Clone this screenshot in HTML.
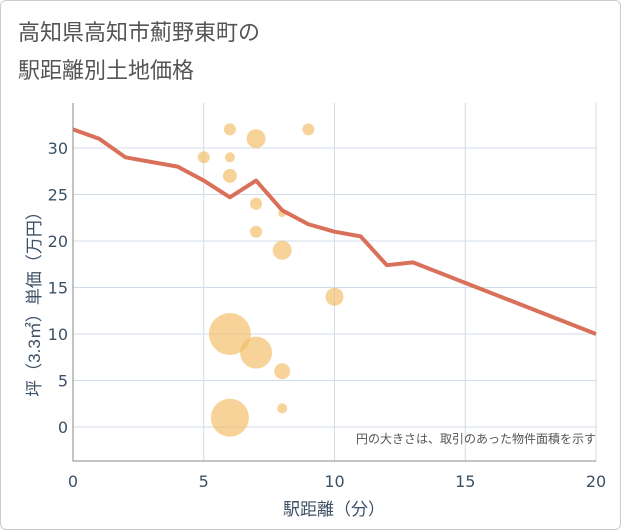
<!DOCTYPE html>
<html><head><meta charset="utf-8"><style>
body{margin:0;background:#fff;font-family:"Liberation Sans","Noto Sans CJK JP",sans-serif;}
#card{position:absolute;left:0;top:0;width:619px;height:528px;border:1px solid #ccc;border-radius:6px;background:#fff;}
</style></head><body>
<div id="card"></div>
<svg id="chart" width="621" height="530" style="position:absolute;left:0;top:0">
<text x="18" y="40" font-size="22" fill="#555">高知県高知市薊野東町の</text>
<text x="18" y="78" font-size="22" fill="#555">駅距離別土地価格</text>
<g id="grid"></g><g id="bubbles"></g><g id="line"></g><g id="axes"></g>
<text x="596" y="443" font-size="12" fill="#555" text-anchor="end">円の大きさは、取引のあった物件面積を示す</text>
<text x="334" y="515" font-size="17" fill="#3d5166" text-anchor="middle">駅距離（分）</text>
<text transform="translate(40,300) rotate(-90)" font-size="17" fill="#3d5166" text-anchor="middle">坪（3.3㎡）単価（万円）</text>
</svg>
<script>
const xTicks=[0,5,10,15,20];
const yTicks=[0,5,10,15,20,25,30];
const lineX=[0,1,2,4,5,6,7,8,9,10,11,12,13,20];
const lineY=[32,31,29,28,26.5,24.7,26.5,23.3,21.8,21,20.5,17.4,17.7,10];
const bubX=[6,7,9,5,6,6,7,8,7,8,10,6,7,8,6,8];
const bubY=[32,31,32,29,29,27,24,23,21,19,14,10,8,6,1,2];
const bubR=[6,9.5,6,6,5,7,6,4,6,9.5,9,21,16,8,19,5];
const X0=73,X1=596,Y0=461,Y1=103;
const xs=v=>X0+(v-0)/20*(X1-X0);
const ys=v=>427-v*9.3;
const NS='http://www.w3.org/2000/svg';
function mk(t,a,p){const e=document.createElementNS(NS,t);for(const k in a)e.setAttribute(k,a[k]);p.appendChild(e);return e;}
const grid=document.getElementById('grid'),axes=document.getElementById('axes');
xTicks.forEach(v=>{
 const l=mk('line',{x1:xs(v),x2:xs(v),y1:Y1,y2:Y0,stroke:'#d0dce8','stroke-width':1},grid);
 
 
 const t=mk('text',{x:xs(v),y:487,'font-size':16,'font-family':'DejaVu Sans, sans-serif',fill:'#3d5166','text-anchor':'middle'},axes);
 t.textContent=v;
 
 
});
yTicks.forEach(v=>{
 const l=mk('line',{x1:X0,x2:X1,y1:ys(v),y2:ys(v),stroke:'#d0dce8','stroke-width':1},grid);
 
 
 const t=mk('text',{x:68,y:ys(v)+6,'font-size':16,'font-family':'DejaVu Sans, sans-serif',fill:'#3d5166','text-anchor':'end'},axes);
 t.textContent=v;
 
 
});
const ax=mk('path',{d:`M${X0},${Y1}V${Y0}H${X1}`,fill:'none',stroke:'#888','stroke-width':1},axes);


const bg=document.getElementById('bubbles');
bubX.forEach((v,i)=>{
 const c=mk('circle',{cx:xs(v),cy:ys(bubY[i]),r:bubR[i],fill:'#f3bc62','fill-opacity':0.65},bg);
 
 
});
const d=lineX.map((v,i)=>(i?'L':'M')+xs(v)+','+ys(lineY[i])).join('');
const p=mk('path',{d:d,fill:'none',stroke:'#d9705a','stroke-width':4,'stroke-linejoin':'round'},document.getElementById('line'));


</script>
</body></html>
